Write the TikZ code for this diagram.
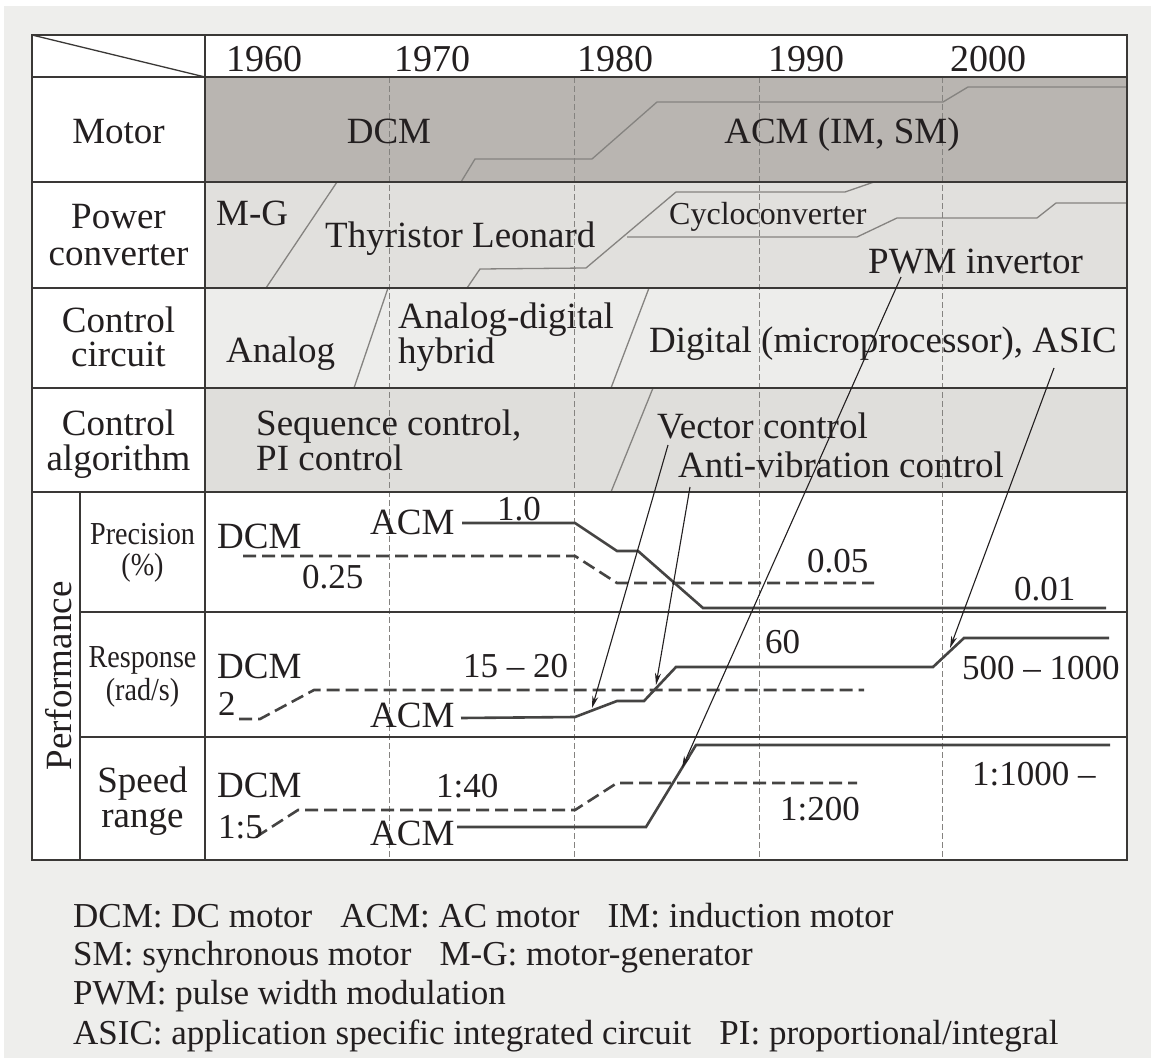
\documentclass[tikz,border=0pt]{standalone}
\usepackage{fontspec}
\setmainfont{Liberation Serif}
\newfontfamily\narrowserif{Liberation Serif}[FakeStretch=0.88]
\usetikzlibrary{arrows.meta}
\definecolor{paper}{HTML}{EEEEEC}
\definecolor{motorbg}{HTML}{B9B5B1}
\definecolor{powerbg}{HTML}{E1E0DD}
\definecolor{circbg}{HTML}{EDEDEB}
\definecolor{algobg}{HTML}{DFDEDB}
\definecolor{ink}{HTML}{231F20}
\definecolor{rule}{HTML}{3A3836}
\definecolor{zone}{HTML}{858380}
\definecolor{curve}{HTML}{454443}
\tikzset{lab/.style={font=\fontsize{37}{35}\selectfont, text=ink, inner sep=0pt},
 yearlab/.style={lab, font=\fontsize{38}{38}\selectfont},
 mid/.style={lab, font=\fontsize{32}{32}\selectfont},
 perflab/.style={lab, font=\narrowserif\fontsize{32}{32}\selectfont},
 num/.style={lab, font=\fontsize{35}{35}\selectfont},
 note/.style={lab, font=\fontsize{35}{35}\selectfont},
 cell/.style={draw=rule, line width=2pt},
 year/.style={draw=zone, line width=0.9pt, dash pattern=on 6pt off 3pt},
 zoneline/.style={draw=zone, line width=1.3pt},
 acm/.style={draw=curve, line width=2.6pt},
 dcm/.style={acm, dash pattern=on 13pt off 6pt},
 pointer/.style={draw=ink, line width=1.1pt, -{Stealth[length=12pt,width=6pt]}},
 }

\begin{document}
\begin{tikzpicture}[x=1pt, y=-1pt]
        \useasboundingbox (0,0) rectangle (1151,1062);
        \fill[white] (0,0) rectangle (1151,1062);
        \fill[paper] (4,6) rectangle (1151,1058);
        \fill[white] (32,35) rectangle (1127,860);
        \fill[motorbg] (205,77) rectangle (1127,182);
        \fill[powerbg] (205,182) rectangle (1127,288);
        \fill[circbg] (205,288) rectangle (1127,388);
        \fill[algobg] (205,388) rectangle (1127,492);

        \draw[zoneline] (461,182) -- (475,159) -- (592,159) -- (657,102) -- (943,102) -- (968,87) -- (1127,87);
        \draw[zoneline] (337,182) -- (266,288);
        \draw[zoneline] (467,288) -- (480,269) -- (586,268) -- (676,192) -- (845,192) -- (874,182);
        \draw[zoneline] (627,237) -- (857,237) -- (897,218) -- (1037,218) -- (1056,203) -- (1127,203);
        \draw[zoneline] (354,388) -- (388,288);
        \draw[zoneline] (611,388) -- (649,288);
        \draw[zoneline] (611,492) -- (653,388);

        \foreach \x in {389, 574, 759, 942} {
            \draw[year] (\x,77) -- (\x,860);
        }

        \draw[cell] (32,35) rectangle (1127,860);
        \foreach \y in {77, 182, 288, 388, 492} {
            \draw[cell] (32,\y) -- (1127,\y);
        }
        \foreach \y in {612, 737} {
            \draw[cell] (80,\y) -- (1127,\y);
        }
        \draw[cell] (205,35) -- (205,860);
        \draw[cell] (80,492) -- (80,860);
        \draw[cell, line width=1.3pt] (32,35) -- (205,77);

        \foreach \x/\yr in {226/1960, 394/1970, 577/1980, 768/1990, 950/2000} {
            \node[yearlab, anchor=base west] (y\yr) at (\x,72) {\yr};
        }

        \node[lab, anchor=base] (motor) at (118.5,144) {Motor};
        \node[lab, anchor=base, align=center, font=\fontsize{37}{37}\selectfont] (power) at (118.5,265) {Power\\converter};
        \node[lab, anchor=base, align=center, font=\fontsize{37}{34}\selectfont] (circuit) at (118.5,366) {Control\\circuit};
        \node[lab, anchor=base, align=center] (algo) at (118.5,470) {Control\\algorithm};
        \node[lab, anchor=base, rotate=90] (perf) at (71,676) {Performance};
        \node[perflab, anchor=base, align=center, font=\narrowserif\fontsize{32}{31}\selectfont] (prec) at (142.5,575) {Precision\\(\%)};
        \node[perflab, anchor=base, align=center, font=\narrowserif\fontsize{32}{33}\selectfont] (resp) at (142.5,700) {Response\\(rad/s)};
        \node[lab, anchor=base, align=center] (speed) at (142.5,827) {Speed\\range};

        \node[lab, anchor=base] (dcm) at (389,144) {DCM};
        \node[lab, anchor=base] (acm) at (842,144) {ACM (IM, SM)};
        \node[lab, anchor=base west] (mg) at (216,225) {M-G};
        \node[lab, anchor=base west] (thy) at (325,247) {Thyristor Leonard};
        \node[mid, anchor=base west] (cyclo) at (669,224) {Cycloconverter};
        \node[lab, anchor=base west] (pwm) at (868,273) {PWM invertor};
        \node[lab, anchor=base west] (analog) at (226,362) {Analog};
        \node[lab, anchor=base west, align=left, font=\fontsize{37}{31}\selectfont] (hybrid) at (398,363) {Analog-digital\\hybrid};
        \node[lab, anchor=base west] (digital) at (649,352) {Digital (microprocessor), ASIC};
        \node[lab, anchor=base west, align=left] (seq) at (256,470) {Sequence control,\\PI control};
        \node[lab, anchor=base west] (vector) at (657,438) {Vector control};
        \node[lab, anchor=base west] (anti) at (678,477) {Anti-vibration control};

        \draw[dcm] (243,556) -- (575,556) -- (617,583) -- (874,583);
        \draw[acm] (462,523) -- (575,523) -- (617,551) -- (638,551) -- (703,608) -- (1106,608);
        \draw[dcm] (239,719) -- (260,719) -- (314,690) -- (864,690);
        \draw[acm] (461,718) -- (575,717) -- (617,701) -- (644,701) -- (676,667) -- (933,667) -- (964,638) -- (1109,638);
        \draw[dcm] (256,837) -- (298,810) -- (575,810) -- (617,783) -- (857,783);
        \draw[acm] (457,827) -- (646,827) -- (696,745) -- (1110,745);

        \node[lab, anchor=base west] (pdcm) at (217,548) {DCM};
        \node[num, anchor=base west] (p025) at (302,588) {0.25};
        \node[lab, anchor=base west] (pacm) at (370,534) {ACM};
        \node[num, anchor=base west] (p10) at (497,520) {1.0};
        \node[num, anchor=base west] (p005) at (807,572) {0.05};
        \node[num, anchor=base west] (p001) at (1014,600) {0.01};
        \node[lab, anchor=base west] (rdcm) at (217,678) {DCM};
        \node[num, anchor=base west] (r2) at (218,715) {2};
        \node[num, anchor=base west] (r15) at (463,677) {15 – 20};
        \node[lab, anchor=base west] (racm) at (370,727) {ACM};
        \node[num, anchor=base west] (r60) at (765,653) {60};
        \node[num, anchor=base west] (r500) at (962,679) {500 – 1000};
        \node[lab, anchor=base west] (sdcm) at (217,797) {DCM};
        \node[num, anchor=base west] (s15) at (218,838) {1:5};
        \node[num, anchor=base west] (s140) at (436,797) {1:40};
        \node[lab, anchor=base west] (sacm) at (370,845) {ACM};
        \node[num, anchor=base west] (s1200) at (780,820) {1:200};
        \node[num, anchor=base west] (s11000) at (972,785) {1:1000 –};

        \coordinate (vecfrom) at (668,445);
        \coordinate (vecto) at (592,708);
        \coordinate (antifrom) at (690,487);
        \coordinate (antito) at (656,685);
        \coordinate (pwmfrom) at (901,277);
        \coordinate (pwmto) at (682,768);
        \coordinate (asicfrom) at (1054,368);
        \coordinate (asicto) at (950,648);
        \draw[pointer] (vecfrom) -- (vecto);
        \draw[pointer] (antifrom) -- (antito);
        \draw[pointer] (pwmfrom) -- (pwmto);
        \draw[pointer] (asicfrom) -- (asicto);

        \node[note, anchor=base west] (key1) at (73,927) {DCM: DC motor\hspace{0.8em}ACM: AC motor\hspace{0.8em}IM: induction motor};
        \node[note, anchor=base west] (key2) at (73,965) {SM: synchronous motor\hspace{0.8em}M-G: motor-generator};
        \node[note, anchor=base west] (key3) at (73,1004) {PWM: pulse width modulation};
        \node[note, anchor=base west] (key4) at (73,1044) {ASIC: application specific integrated circuit\hspace{0.8em}PI: proportional/integral};
    \end{tikzpicture}
\end{document}
